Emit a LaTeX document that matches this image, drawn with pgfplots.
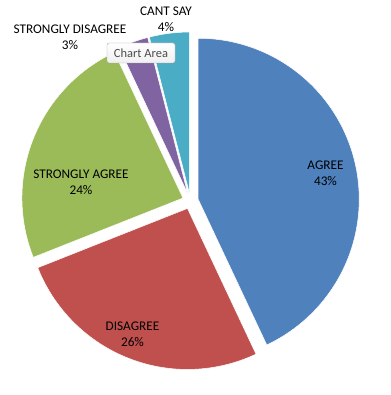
\documentclass[border=0pt]{standalone}
\usepackage{pgfplots}
\pgfplotsset{compat=1.18}
\usepackage{fontspec}
\setmainfont{Carlito}
\definecolor{cagree}{HTML}{4F81BD}
\definecolor{cdis}{HTML}{C0504D}
\definecolor{csa}{HTML}{9BBB59}
\definecolor{csd}{HTML}{8064A2}
\definecolor{ccs}{HTML}{4BACC6}
\def\cx{190.4}
\def\cy{194}
\def\rr{161}
\def\dd{8}
% #1 start percent, #2 end percent, #3 colour
\newcommand{\pieslice}[3]{%
  \addplot[fill=#3, draw=white, line width=0.5pt, domain={#1*3.6}:{#2*3.6}, samples=90, variable=\t]
    ({\cx + \dd*sin((#1+#2)*1.8) + \rr*sin(\t)}, {\cy + \dd*cos((#1+#2)*1.8) + \rr*cos(\t)})
    -- (axis cs:{\cx + \dd*sin((#1+#2)*1.8)},{\cy + \dd*cos((#1+#2)*1.8)}) -- cycle;
}
\begin{document}
\begin{tikzpicture}
\begin{axis}[
  scale only axis, width=391bp, height=395bp,
  xmin=0, xmax=391, ymin=0, ymax=395,
  hide axis, clip=false,
]
% values: AGREE 43, DISAGREE 26, STRONGLY AGREE 24, STRONGLY DISAGREE 3, CANT SAY 4
\pieslice{0}{43}{cagree}
\pieslice{43}{69}{cdis}
\pieslice{69}{93}{csa}
\pieslice{93}{96}{csd}
\pieslice{96}{100}{ccs}
\begin{scope}[every node/.style={align=center, font=\fontsize{13.3}{16.5}\selectfont, text=black}]
\node at (axis cs:325.5,{395-173}) {AGREE\\43\%};
\node at (axis cs:132.5,{395-334}) {DISAGREE\\26\%};
\node at (axis cs:81,{395-182.5}) {STRONGLY AGREE\\24\%};
\node at (axis cs:70,{395-37}) {STRONGLY DISAGREE\\3\%};
\node at (axis cs:166,{395-19.5}) {CANT SAY\\4\%};
\end{scope}
\node[draw=gray!70, rounded corners=2pt, top color=white, bottom color=gray!12,
      minimum width=68bp, minimum height=20bp, inner sep=1pt,
      font=\fontsize{12.5}{14}\selectfont, text=black!70]
  at (axis cs:141,{395-53}) {Chart Area};
\end{axis}
\path (current axis.south west) rectangle (current axis.north east);
\end{tikzpicture}
\end{document}
